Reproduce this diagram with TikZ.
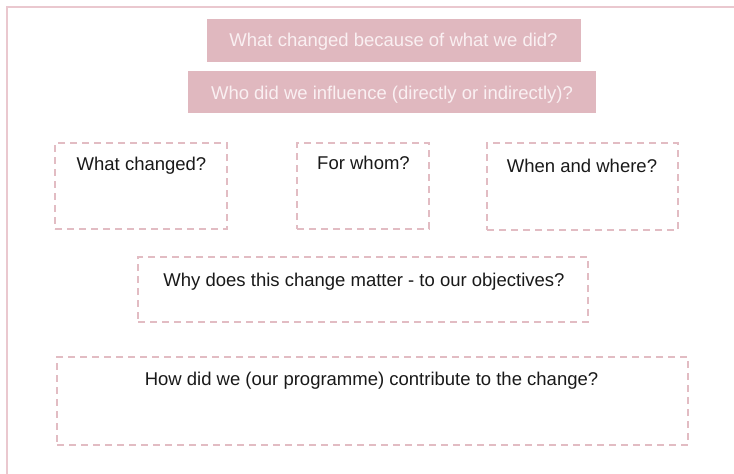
\documentclass[tikz,border=0pt]{standalone}
\usepackage{fontspec}
\setmainfont{Liberation Sans}
\usetikzlibrary{positioning}

\definecolor{rosefill}{RGB}{224,184,191}
\definecolor{roseline}{RGB}{226,188,195}
\definecolor{roseframe}{RGB}{234,200,207}
\definecolor{rosetext}{RGB}{250,240,242}
\newcommand{\qfont}{\fontsize{18.5}{22}\selectfont}

\tikzset{
    banner/.style={fill=rosefill, draw=none, inner sep=0pt},
    qbox/.style={draw=roseline, line width=1.8pt, dash pattern=on 7pt off 5pt, inner sep=0pt},
    qtext/.style={font=\qfont, text=black!90, anchor=base, inner sep=0pt},
    btext/.style={qtext, text=rosetext},
    frameline/.style={draw=roseframe, line width=2pt}
}

\begin{document}
\begin{tikzpicture}[x=1pt, y=-1pt]
    \useasboundingbox (0,0) rectangle (734,474);
    \draw[frameline] (7,474) -- (7,7) -- (734,7);

    % the two banners on top
    \node[banner, minimum width=374pt, minimum height=43pt] (changed) at (394,40.5) {};
    \node[btext] (changedtext) at (393.5,46.7) {What changed because of what we did?};
    \node[banner, minimum width=408pt, minimum height=42pt] (influence) at (392,92) {};
    \node[btext] (influencetext) at (392,99.3) {Who did we influence (directly or indirectly)?};

    % the question boxes
    \node[qbox, minimum width=172pt, minimum height=86pt] (whatbox) at (141,186) {};
    \node[qtext] (whattext) at (141.5,170.7) {What changed?};

    \node[qbox, minimum width=132pt, minimum height=86pt] (whombox) at (363,186) {};
    \node[qtext] (whomtext) at (363.5,169.3) {For whom?};

    \node[qbox, minimum width=191pt, minimum height=87pt] (wherebox) at (582.5,186.5) {};
    \node[qtext] (wheretext) at (582,172) {When and where?};

    \node[qbox, minimum width=450pt, minimum height=65pt] (whybox) at (363,289.5) {};
    \node[qtext] (whytext) at (364,286.7) {Why does this change matter - to our objectives?};

    \node[qbox, minimum width=631pt, minimum height=88pt] (howbox) at (372.5,401) {};
    \node[qtext] (howtext) at (371.5,385.7) {How did we (our programme) contribute to the change?};
\end{tikzpicture}
\end{document}
